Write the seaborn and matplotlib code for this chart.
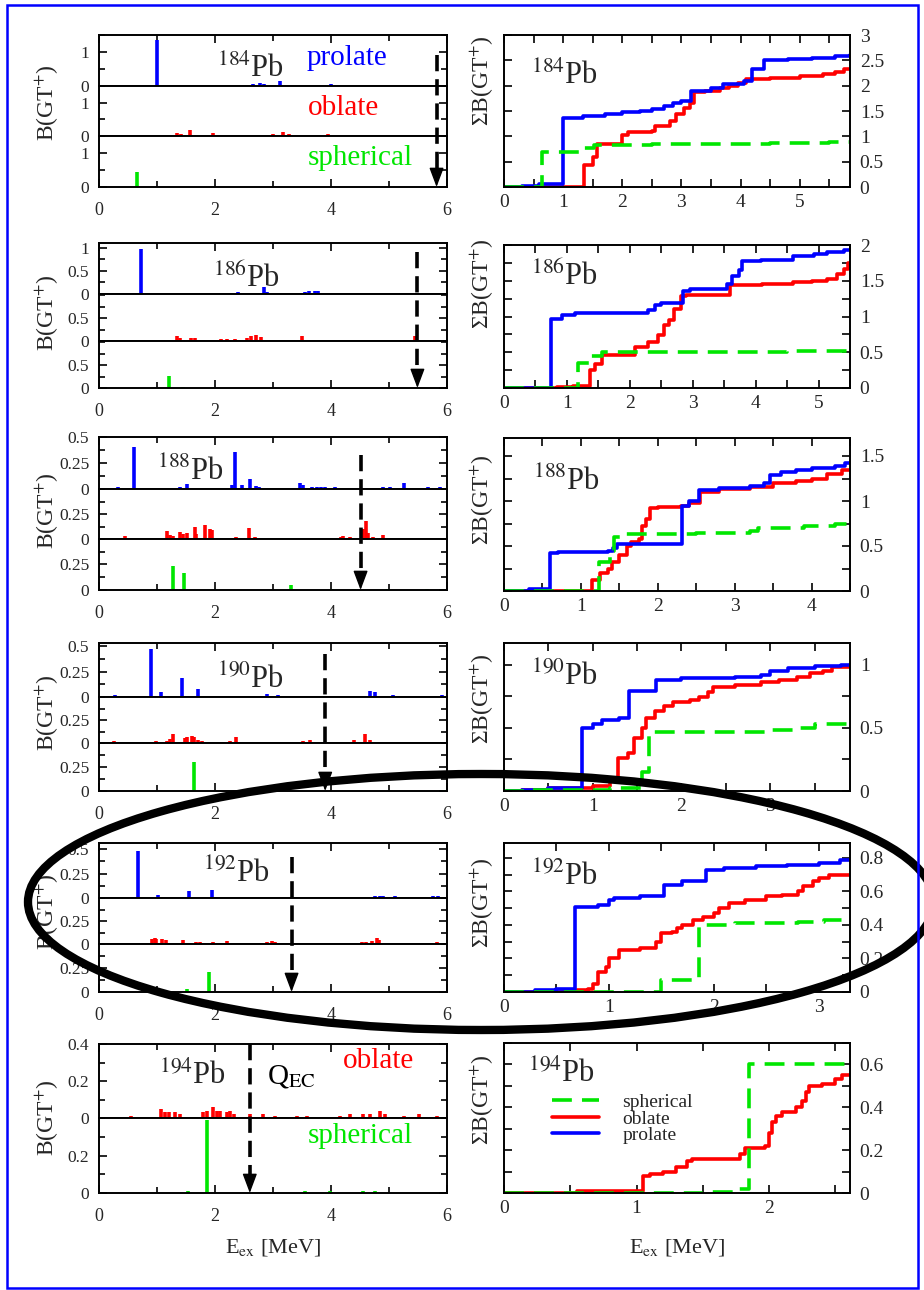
import matplotlib
matplotlib.use('Agg')
import matplotlib.pyplot as plt
import seaborn as sns
import pandas as pd
from matplotlib import patches, transforms
from matplotlib.lines import Line2D
from matplotlib.patches import FancyArrowPatch
from matplotlib.ticker import FuncFormatter, MultipleLocator, FixedLocator

# ---------------- data ----------------
nuclei = ['184', '186', '188', '190', '192', '194']
q_ec = [5.82, 5.49, 4.51, 3.90, 3.32, 2.60]          # Q_EC arrows [MeV]
right_xmax = [5.85, 5.5, 4.5, 3.9, 3.3, 2.61]
right_ymax = [3.0, 2.0, 1.7, 1.17, 0.889, 0.70]

# individual B(GT+) strengths: (E_ex, B)
bars_184_prolate = [(1.0, 1.35), (2.26, 0.03), (2.66, 0.05), (2.78, 0.08), (2.84, 0.06), (3.12, 0.15),
                    (3.2, 0.03), (3.65, 0.04), (3.8, 0.03), (4.0, 0.05), (4.15, 0.03), (4.35, 0.04),
                    (4.45, 0.02), (5.9, 0.03)]
bars_184_oblate = [(0.85, 0.02), (1.34, 0.1), (1.42, 0.05), (1.57, 0.17), (1.97, 0.1), (2.1, 0.03),
                   (2.55, 0.03), (2.7, 0.03), (2.85, 0.03), (3.0, 0.05), (3.18, 0.12), (3.27, 0.05),
                   (3.5, 0.03), (3.7, 0.02), (3.95, 0.06), (4.4, 0.02), (4.8, 0.02), (5.55, 0.03),
                   (5.7, 0.03), (5.8, 0.03)]
bars_184_spherical = [(0.65, 0.45)]

bars_186_prolate = [(0.73, 0.98), (0.95, 0.03), (2.4, 0.05), (2.5, 0.03), (2.68, 0.03), (2.85, 0.15),
                    (2.9, 0.05), (3.55, 0.05), (3.62, 0.06), (3.72, 0.07), (3.78, 0.07), (4.1, 0.02),
                    (4.4, 0.02), (4.8, 0.02), (5.6, 0.02), (5.7, 0.02)]
bars_186_oblate = [(0.85, 0.03), (1.35, 0.12), (1.4, 0.07), (1.58, 0.06), (1.65, 0.07), (2.1, 0.05),
                   (2.2, 0.04), (2.35, 0.04), (2.55, 0.06), (2.62, 0.1), (2.7, 0.14), (2.8, 0.08),
                   (3.5, 0.1), (5.25, 0.03), (5.45, 0.1)]
bars_186_spherical = [(1.2, 0.27), (1.45, 0.02)]

bars_188_prolate = [(0.32, 0.02), (0.61, 0.4), (1.4, 0.02), (1.51, 0.05), (2.3, 0.04), (2.35, 0.36),
                    (2.46, 0.04), (2.6, 0.1), (2.7, 0.03), (2.75, 0.02), (3.26, 0.01), (3.47, 0.06),
                    (3.52, 0.04), (3.67, 0.02), (3.75, 0.02), (3.82, 0.02), (3.9, 0.02), (4.07, 0.02),
                    (4.9, 0.02), (5.02, 0.02), (5.25, 0.06), (5.68, 0.02), (5.88, 0.02)]
bars_188_oblate = [(0.45, 0.03), (1.17, 0.08), (1.22, 0.04), (1.28, 0.03), (1.4, 0.07), (1.45, 0.05),
                   (1.51, 0.06), (1.66, 0.12), (1.68, 0.05), (1.83, 0.14), (1.91, 0.1), (1.94, 0.09),
                   (2.37, 0.02), (2.59, 0.11), (2.69, 0.02), (3.49, 0.01), (3.78, 0.01), (4.18, 0.02),
                   (4.21, 0.03), (4.33, 0.02), (4.56, 0.1), (4.6, 0.18), (4.64, 0.06), (4.73, 0.02),
                   (4.9, 0.04), (5.97, 0.01)]
bars_188_spherical = [(1.28, 0.24), (1.47, 0.17), (3.31, 0.05), (4.01, 0.01), (4.39, 0.01),
                      (4.96, 0.01), (5.65, 0.01)]

bars_190_prolate = [(0.28, 0.02), (0.89, 0.47), (1.07, 0.05), (1.28, 0.01), (1.43, 0.19), (1.7, 0.08),
                    (1.8, 0.01), (2.55, 0.01), (2.89, 0.03), (3.09, 0.02), (3.18, 0.01), (3.26, 0.01),
                    (3.52, 0.01), (3.98, 0.01), (4.67, 0.06), (4.76, 0.05), (5.07, 0.02), (5.48, 0.01),
                    (5.91, 0.02)]
bars_190_oblate = [(0.25, 0.02), (0.99, 0.02), (1.17, 0.02), (1.22, 0.04), (1.28, 0.1), (1.48, 0.05),
                   (1.51, 0.06), (1.6, 0.08), (1.64, 0.06), (1.71, 0.03), (1.77, 0.02), (2.25, 0.02),
                   (2.36, 0.06), (3.52, 0.02), (3.64, 0.03), (4.07, 0.01), (4.39, 0.03), (4.59, 0.1),
                   (4.67, 0.03)]
bars_190_spherical = [(1.64, 0.3), (4.44, 0.005), (4.93, 0.005), (5.94, 0.01)]

bars_192_prolate = [(0.68, 0.48), (1.01, 0.03), (1.55, 0.07), (1.94, 0.08), (2.8, 0.01), (3.32, 0.01),
                    (4.76, 0.02), (4.84, 0.02), (4.9, 0.02), (5.1, 0.02), (5.28, 0.01), (5.68, 0.01),
                    (5.76, 0.02), (5.85, 0.02)]
bars_192_oblate = [(0.28, 0.01), (0.79, 0.01), (0.91, 0.05), (0.97, 0.06), (0.99, 0.05), (1.08, 0.05),
                   (1.16, 0.04), (1.45, 0.04), (1.68, 0.02), (1.74, 0.02), (1.86, 0.01), (1.97, 0.02),
                   (2.2, 0.03), (2.43, 0.01), (2.89, 0.02), (2.98, 0.03), (3.03, 0.02), (3.44, 0.01),
                   (3.72, 0.01), (4.16, 0.01), (4.53, 0.02), (4.61, 0.02), (4.7, 0.03), (4.79, 0.07),
                   (4.82, 0.04), (5.56, 0.01), (5.82, 0.02)]
bars_192_spherical = [(1.52, 0.03), (1.89, 0.21), (3.55, 0.01), (3.98, 0.01), (4.47, 0.01), (4.87, 0.01)]

bars_194_oblate = [(0.56, 0.01), (1.07, 0.05), (1.14, 0.03), (1.2, 0.03), (1.31, 0.03), (1.4, 0.02),
                   (1.8, 0.03), (1.86, 0.04), (1.97, 0.06), (2.03, 0.04), (2.09, 0.04), (2.2, 0.03),
                   (2.26, 0.04), (2.32, 0.02), (2.6, 0.02), (2.83, 0.02), (3.03, 0.01), (3.41, 0.01),
                   (3.58, 0.01), (4.16, 0.01), (4.33, 0.02), (4.56, 0.02), (4.67, 0.02), (4.84, 0.04),
                   (4.93, 0.02), (5.25, 0.01), (5.51, 0.02), (5.82, 0.01)]
bars_194_spherical = [(1.54, 0.01), (1.86, 0.39), (3.55, 0.01), (3.98, 0.01), (4.56, 0.01), (4.76, 0.01)]

# cumulative sums: (E_ex, sum B) step points
cum_184_prolate = [(0, 0), (0.3, 0.02), (0.6, 0.05), (1.0, 1.37), (1.33, 1.40), (1.7, 1.45), (2.0, 1.48),
                   (2.3, 1.50), (2.5, 1.53), (2.7, 1.60), (2.85, 1.66), (3.0, 1.70), (3.16, 1.90),
                   (3.5, 1.95), (3.7, 2.03), (4.05, 2.1), (4.2, 2.33), (4.4, 2.50), (4.8, 2.52),
                   (5.2, 2.55), (5.6, 2.58), (5.85, 2.60)]
cum_184_oblate = [(0, 0), (1.36, 0.43), (1.5, 0.6), (1.58, 0.85), (2.0, 1.03), (2.1, 1.08), (2.5, 1.1),
                  (2.56, 1.2), (2.8, 1.3), (2.9, 1.45), (3.05, 1.55), (3.15, 1.65), (3.22, 1.87),
                  (3.4, 1.9), (3.65, 1.95), (3.8, 2.0), (3.95, 2.05), (4.1, 2.13), (4.5, 2.15),
                  (5.0, 2.2), (5.4, 2.23), (5.6, 2.27), (5.75, 2.32), (5.85, 2.33)]
cum_184_spherical = [(0, 0), (0.65, 0.7), (1.36, 0.77), (1.52, 0.83), (2.5, 0.84), (3.5, 0.85),
                     (4.5, 0.86), (5.5, 0.88), (5.85, 0.88)]

cum_186_prolate = [(0, 0), (0.75, 0.97), (0.92, 1.02), (1.13, 1.05), (2.29, 1.09), (2.4, 1.16), (2.5, 1.19),
                   (2.84, 1.36), (2.95, 1.39), (3.55, 1.46), (3.62, 1.56), (3.74, 1.65), (3.79, 1.77),
                   (4.08, 1.79), (4.6, 1.84), (4.92, 1.87), (5.13, 1.9), (5.4, 1.93), (5.5, 1.93)]
cum_186_oblate = [(0, 0), (0.85, 0.01), (1.1, 0.03), (1.37, 0.25), (1.45, 0.34), (1.55, 0.46), (2.08, 0.57),
                  (2.29, 0.64), (2.45, 0.74), (2.55, 0.88), (2.63, 0.95), (2.71, 1.11), (2.82, 1.28),
                  (2.9, 1.3), (3.6, 1.44), (4.1, 1.46), (4.6, 1.48), (4.9, 1.5), (5.13, 1.53),
                  (5.3, 1.6), (5.4, 1.66), (5.47, 1.75), (5.5, 1.75)]
cum_186_spherical = [(0, 0), (1.18, 0.35), (1.35, 0.45), (1.55, 0.5), (3.0, 0.51), (4.5, 0.52), (5.5, 0.53)]

cum_188_prolate = [(0, 0), (0.32, 0.02), (0.6, 0.42), (0.7, 0.43), (1.35, 0.45), (1.42, 0.48), (1.47, 0.52),
                   (2.31, 0.95), (2.4, 1.0), (2.54, 1.12), (2.8, 1.14), (3.0, 1.15), (3.2, 1.17),
                   (3.38, 1.2), (3.46, 1.29), (3.6, 1.32), (3.8, 1.35), (4.0, 1.37), (4.3, 1.39),
                   (4.44, 1.42), (4.5, 1.42)]
cum_188_oblate = [(0, 0), (1.15, 0.12), (1.25, 0.2), (1.35, 0.25), (1.4, 0.32), (1.5, 0.4), (1.6, 0.5),
                  (1.65, 0.55), (1.75, 0.58), (1.8, 0.72), (1.85, 0.8), (1.9, 0.92), (2.0, 0.93),
                  (2.3, 0.95), (2.4, 0.98), (2.55, 1.1), (2.8, 1.13), (3.2, 1.16), (3.5, 1.2),
                  (3.8, 1.22), (4.0, 1.25), (4.2, 1.3), (4.4, 1.34), (4.5, 1.34)]
cum_188_spherical = [(0, 0), (1.24, 0.32), (1.38, 0.45), (1.43, 0.6), (1.55, 0.63), (2.5, 0.65),
                     (3.2, 0.67), (3.3, 0.7), (3.9, 0.72), (4.3, 0.75), (4.5, 0.75)]

cum_190_prolate = [(0, 0), (0.2, 0.01), (0.5, 0.02), (0.88, 0.5), (1.0, 0.53), (1.1, 0.56), (1.3, 0.58),
                   (1.41, 0.79), (1.71, 0.88), (2.0, 0.89), (2.6, 0.9), (2.9, 0.92), (3.0, 0.95),
                   (3.2, 0.97), (3.5, 0.99), (3.8, 1.0), (3.9, 1.0)]
cum_190_oblate = [(0, 0), (0.2, 0.01), (0.5, 0.02), (1.0, 0.04), (1.2, 0.08), (1.28, 0.26), (1.4, 0.3),
                  (1.47, 0.42), (1.55, 0.5), (1.6, 0.58), (1.7, 0.63), (1.8, 0.67), (1.9, 0.7),
                  (2.1, 0.72), (2.2, 0.74), (2.3, 0.78), (2.36, 0.82), (2.6, 0.84), (2.9, 0.86),
                  (3.1, 0.88), (3.3, 0.9), (3.45, 0.93), (3.6, 0.95), (3.7, 0.98), (3.9, 1.0)]
cum_190_spherical = [(0, 0), (0.3, 0.01), (1.2, 0.02), (1.55, 0.15), (1.63, 0.47), (2.0, 0.47),
                     (3.0, 0.48), (3.3, 0.5), (3.5, 0.53), (3.9, 0.54)]

cum_192_prolate = [(0, 0), (0.3, 0.01), (0.5, 0.02), (0.68, 0.505), (0.9, 0.52), (1.0, 0.55), (1.05, 0.56),
                   (1.3, 0.57), (1.53, 0.64), (1.7, 0.66), (1.93, 0.73), (2.1, 0.74), (2.4, 0.75),
                   (2.7, 0.76), (3.0, 0.77), (3.2, 0.79), (3.3, 0.79)]
cum_192_oblate = [(0, 0), (0.7, 0.01), (0.8, 0.02), (0.85, 0.05), (0.9, 0.12), (0.97, 0.15), (1.0, 0.2),
                  (1.1, 0.25), (1.3, 0.26), (1.45, 0.3), (1.5, 0.35), (1.6, 0.36), (1.65, 0.38),
                  (1.7, 0.4), (1.8, 0.43), (1.9, 0.45), (2.0, 0.47), (2.05, 0.5), (2.15, 0.53),
                  (2.3, 0.55), (2.5, 0.57), (2.65, 0.58), (2.8, 0.6), (2.85, 0.63), (2.95, 0.66),
                  (3.0, 0.68), (3.1, 0.7), (3.3, 0.7)]
cum_192_spherical = [(0, 0), (1.5, 0.07), (1.86, 0.4), (2.2, 0.41), (2.8, 0.42), (3.05, 0.43), (3.3, 0.43)]

cum_194_oblate = [(0, 0), (0.55, 0.01), (1.05, 0.08), (1.1, 0.09), (1.2, 0.1), (1.3, 0.12), (1.38, 0.15),
                  (1.42, 0.16), (1.78, 0.18), (1.82, 0.21), (1.97, 0.22), (2.0, 0.28), (2.02, 0.33),
                  (2.05, 0.36), (2.1, 0.38), (2.2, 0.4), (2.25, 0.43), (2.28, 0.47), (2.3, 0.5),
                  (2.4, 0.51), (2.5, 0.53), (2.55, 0.55), (2.61, 0.55)]
cum_194_spherical = [(0, 0), (1.0, 0.002), (1.5, 0.005), (1.75, 0.02), (1.85, 0.6), (2.61, 0.6)]

# ---------------- style ----------------
sns.set_style('ticks')
plt.rcParams['font.family'] = ['Liberation Serif', 'DejaVu Serif']
plt.rcParams['mathtext.fontset'] = 'stix'

BLUE, RED, GREEN = '#0000ff', '#ff0000', '#00e600'
colors = {'prolate': BLUE, 'oblate': RED, 'spherical': GREEN}
W, H = 924, 1290
fig = plt.figure(figsize=(W / 100, H / 100), dpi=100)
fig.patch.set_facecolor('white')


def fx(p):
    return p / W


def fy(p):
    return 1 - p / H


fmt = FuncFormatter(lambda v, pos: '%g' % v)

LX0, LW = 99, 348
RX0, RW = 504, 346
left_bounds = [[35, 86, 136, 187], [243, 294, 341, 388], [437, 489, 539, 590],
               [643, 697, 743, 791], [843, 898, 944, 992], [1044, 1118, 1193]]
right_bounds = [(35, 187), (245, 388), (438, 591), (643, 791), (843, 992), (1043, 1193)]
left_ylims = [[1.5, 1.5, 1.5], [1.1, 1.03, 1.03], [0.5, 0.5, 0.5], [0.53, 0.5, 0.5],
              [0.565, 0.5, 0.5], [0.4, 0.4]]
left_major = [[[0, 1], [0, 1], [0, 1]], [[0, .5, 1], [0, .5], [0, .5]],
              [[0, .25, .5], [0, .25], [0, .25]], [[0, .25, .5], [0, .25], [0, .25]],
              [[0, .25, .5], [0, .25], [0, .25]], [[0, .2, .4], [0, .2]]]
left_minor = [0.5, 0.25, 0.125, 0.125, 0.125, 0.1]
right_major = [0.5, 0.5, 0.5, 0.5, 0.2, 0.2]
right_minor = [0.5, 0.25, 0.25, 0.25, 0.1, 0.1]

bars_all = [
    [('prolate', bars_184_prolate), ('oblate', bars_184_oblate), ('spherical', bars_184_spherical)],
    [('prolate', bars_186_prolate), ('oblate', bars_186_oblate), ('spherical', bars_186_spherical)],
    [('prolate', bars_188_prolate), ('oblate', bars_188_oblate), ('spherical', bars_188_spherical)],
    [('prolate', bars_190_prolate), ('oblate', bars_190_oblate), ('spherical', bars_190_spherical)],
    [('prolate', bars_192_prolate), ('oblate', bars_192_oblate), ('spherical', bars_192_spherical)],
    [('oblate', bars_194_oblate), ('spherical', bars_194_spherical)],
]
cum_all = [
    [('oblate', cum_184_oblate), ('prolate', cum_184_prolate), ('spherical', cum_184_spherical)],
    [('oblate', cum_186_oblate), ('prolate', cum_186_prolate), ('spherical', cum_186_spherical)],
    [('oblate', cum_188_oblate), ('prolate', cum_188_prolate), ('spherical', cum_188_spherical)],
    [('oblate', cum_190_oblate), ('prolate', cum_190_prolate), ('spherical', cum_190_spherical)],
    [('oblate', cum_192_oblate), ('prolate', cum_192_prolate), ('spherical', cum_192_spherical)],
    [('oblate', cum_194_oblate), ('spherical', cum_194_spherical)],
]

left_label_pos = [(2.03, 0.18), (1.97, 0.14), (1.0, 0.17), (2.03, 0.17), (1.8, 0.29), (1.04, 0.47)]
right_label_pos = [(0.077, 0.68), (0.077, 0.72), (0.085, 0.66), (0.077, 0.72), (0.077, 0.72), (0.068, 0.74)]
arrow_top = [55, 252, 455, 654, 857, 1044]
left_ylab_y = [103, 313, 511, 713, 912, 1118]
right_ylab_y = [81, 284, 500, 699, 903, 1100]
DASH = (0, (5.5, 2.8))


def style_spines(ax):
    for s in ax.spines.values():
        s.set_linewidth(1.4)
        s.set_color('k')


for i in range(6):
    bnds = left_bounds[i]
    nsub = len(bnds) - 1
    laxes = []
    for j in range(nsub):
        top, bot = bnds[j], bnds[j + 1]
        ax = fig.add_axes([fx(LX0), fy(bot), LW / W, (bot - top) / H])
        shape, bars = bars_all[i][j]
        E = [b[0] for b in bars]
        B = [b[1] for b in bars]
        ax.vlines(E, 0, B, color=colors[shape], lw=2.6)
        ax.set_xlim(0, 6)
        ax.set_ylim(0, left_ylims[i][j])
        ax.yaxis.set_major_locator(FixedLocator(left_major[i][j]))
        ax.yaxis.set_minor_locator(MultipleLocator(left_minor[i]))
        ax.yaxis.set_major_formatter(fmt)
        ax.xaxis.set_major_locator(MultipleLocator(2))
        ax.xaxis.set_minor_locator(MultipleLocator(1))
        ax.tick_params(axis='both', which='both', direction='in', width=1.4, labelsize=13)
        ax.tick_params(axis='y', labelsize=12.5)
        ax.tick_params(which='major', length=6)
        ax.tick_params(which='minor', length=4)
        ax.tick_params(axis='y', which='both', left=True, right=True, pad=7)
        ax.tick_params(axis='x', which='both', top=(j == 0), bottom=(j == nsub - 1),
                       labelbottom=(j == nsub - 1), pad=11)
        style_spines(ax)
        laxes.append(ax)

    # nucleus label
    lx, ly = left_label_pos[i]
    laxes[0].text(lx, ly, r'$^{%s}$Pb' % nuclei[i], transform=laxes[0].get_xaxis_transform(),
                  fontsize=22, va='baseline', ha='left')

    # Q_EC arrow
    axb = laxes[-1]
    tr = transforms.blended_transform_factory(axb.transData, fig.transFigure)
    ybot = bnds[-1]
    head = 17
    fig.add_artist(Line2D([q_ec[i], q_ec[i]], [fy(arrow_top[i]), fy(ybot - head + 3)], transform=tr,
                          color='k', lw=2.6, ls=(0, (4.5, 2.2)), zorder=5))
    fig.add_artist(FancyArrowPatch((q_ec[i], fy(ybot - head)), (q_ec[i], fy(ybot)), transform=tr,
                                   arrowstyle='-|>,head_width=0.45,head_length=1.2', mutation_scale=10,
                                   color='k', lw=1, shrinkA=0, shrinkB=0, zorder=5))

    fig.text(fx(47), fy(left_ylab_y[i]), 'B(GT$^{+}$)', rotation=90, ha='center', va='center',
             fontsize=17)

    # right cumulative panel
    top, bot = right_bounds[i]
    ax = fig.add_axes([fx(RX0), fy(bot), RW / W, (bot - top) / H])
    for shape, cum in cum_all[i]:
        df = pd.DataFrame(cum, columns=['E', 'S'])
        kw = dict(linestyle=DASH) if shape == 'spherical' else {}
        sns.lineplot(data=df, x='E', y='S', ax=ax, color=colors[shape], lw=2.6,
                     drawstyle='steps-post', estimator=None, sort=False, legend=False, **kw)
    ax.set_xlabel('')
    ax.set_ylabel('')
    ax.set_xlim(0, right_xmax[i])
    ax.set_ylim(0, right_ymax[i])
    ax.yaxis.set_major_locator(MultipleLocator(right_major[i]))
    ax.yaxis.set_minor_locator(MultipleLocator(right_minor[i]))
    ax.yaxis.set_major_formatter(fmt)
    ax.xaxis.set_major_locator(MultipleLocator(1))
    ax.xaxis.set_minor_locator(MultipleLocator(0.5))
    ax.tick_params(axis='both', which='both', direction='in', width=1.4, labelsize=14)
    ax.tick_params(which='major', length=6)
    ax.tick_params(which='minor', length=6)
    ax.tick_params(axis='y', which='both', left=True, right=True, labelleft=False, labelright=True, pad=7)
    ax.tick_params(axis='x', which='both', top=True, bottom=True, pad=5)
    style_spines(ax)
    rx, ry = right_label_pos[i]
    ax.text(rx, ry, r'$^{%s}$Pb' % nuclei[i], transform=ax.transAxes, fontsize=22, va='baseline')
    fig.text(fx(482), fy(right_ylab_y[i]), 'ΣB(GT$^{+}$)', rotation=90, ha='center', va='center',
             fontsize=17)

    if i == 0:
        laxes[0].text(3.58, 0.42, 'prolate', color=BLUE, fontsize=21, va='baseline',
                      transform=laxes[0].get_xaxis_transform())
        laxes[1].text(3.6, 0.42, 'oblate', color=RED, fontsize=21, va='baseline',
                      transform=laxes[1].get_xaxis_transform())
        laxes[2].text(3.6, 0.43, 'spherical', color=GREEN, fontsize=21, va='baseline',
                      transform=laxes[2].get_xaxis_transform())
    if i == 5:
        laxes[0].text(2.9, 0.47, r'Q$_{\rm EC}$', color='k', fontsize=21, va='baseline',
                      transform=laxes[0].get_xaxis_transform())
        laxes[0].text(4.21, 0.68, 'oblate', color=RED, fontsize=21, va='baseline',
                      transform=laxes[0].get_xaxis_transform())
        laxes[1].text(3.6, 0.67, 'spherical', color=GREEN, fontsize=21, va='baseline',
                      transform=laxes[1].get_xaxis_transform())
        handles = [Line2D([], [], color=GREEN, lw=2.6, ls=DASH),
                   Line2D([], [], color=RED, lw=2.6),
                   Line2D([], [], color=BLUE, lw=2.6)]
        ax.legend(handles, ['spherical', 'oblate', 'prolate'], loc='upper left',
                  bbox_to_anchor=(0.14, 0.665), frameon=False, fontsize=14, handlelength=2.4,
                  handletextpad=1.2, labelspacing=-0.05, borderaxespad=0, borderpad=0)

fig.text(fx(273), fy(1253), r'E$_{\rm ex}$ [MeV]', ha='center', va='baseline', fontsize=16)
fig.text(fx(677), fy(1253), r'E$_{\rm ex}$ [MeV]', ha='center', va='baseline', fontsize=16)

# highlight ellipse and frame
fig.add_artist(patches.Ellipse((fx(481), fy(902)), width=906 / W, height=256 / H,
                               transform=fig.transFigure, fill=False, lw=6, ec='k', zorder=10))
fig.add_artist(patches.Rectangle((fx(7), fy(1288)), (918 - 7) / W, (1288 - 5) / H,
                                 transform=fig.transFigure, fill=False, ec=BLUE, lw=1.8, zorder=10))

fig.savefig('out.png', dpi=100)
